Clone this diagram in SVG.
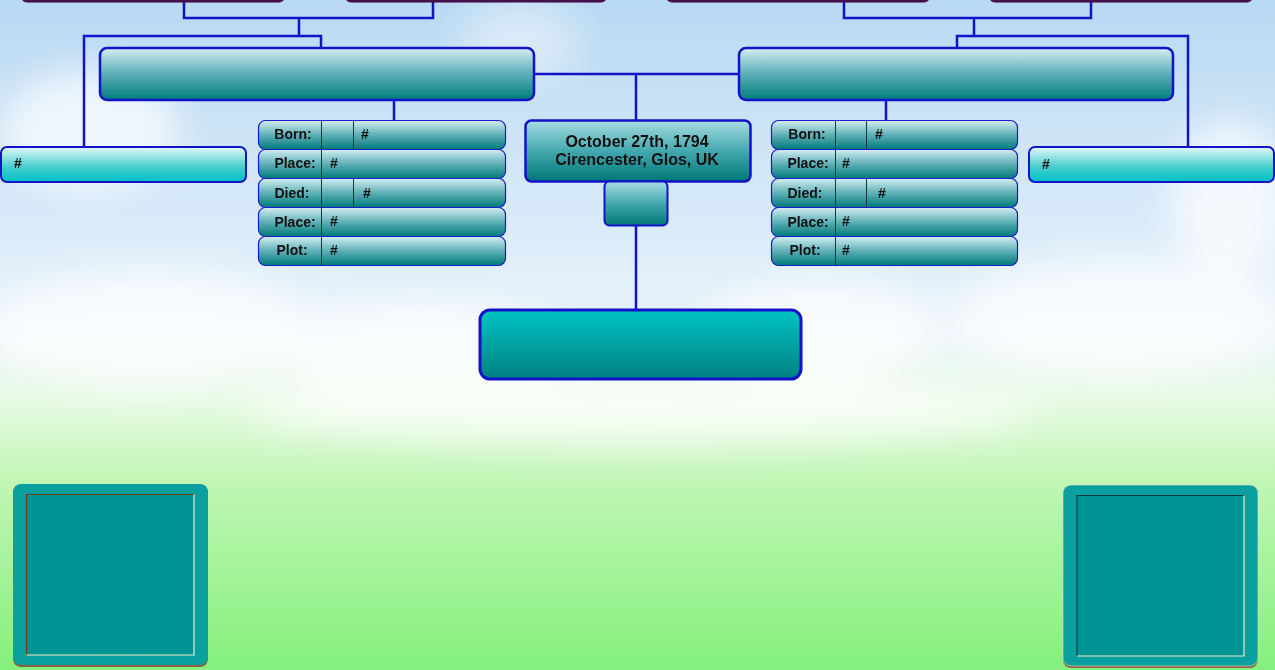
<svg xmlns="http://www.w3.org/2000/svg" width="1275" height="670" viewBox="0 0 1275 670">
<defs>
<linearGradient id="bg" x1="0" y1="0" x2="0" y2="1">
<stop offset="0" stop-color="#b9d9f2"/>
<stop offset="0.3" stop-color="#d6e9f8"/>
<stop offset="0.5" stop-color="#eaf4fa"/>
<stop offset="0.6" stop-color="#e6fae2"/>
<stop offset="0.72" stop-color="#c0f6b4"/>
<stop offset="1" stop-color="#84f07c"/>
</linearGradient>
<linearGradient id="gParent" x1="0" y1="0" x2="0" y2="1">
<stop offset="0" stop-color="#d6eef2"/>
<stop offset="0.45" stop-color="#66b4bc"/>
<stop offset="1" stop-color="#007c7c"/>
</linearGradient>
<linearGradient id="gRow" x1="0" y1="0" x2="0" y2="1">
<stop offset="0" stop-color="#d4eef2"/>
<stop offset="0.5" stop-color="#5eb0b6"/>
<stop offset="1" stop-color="#007a7a"/>
</linearGradient>
<linearGradient id="gCenter" x1="0" y1="0" x2="0" y2="1">
<stop offset="0" stop-color="#a8dce4"/>
<stop offset="0.5" stop-color="#44a8ae"/>
<stop offset="1" stop-color="#007878"/>
</linearGradient>
<linearGradient id="gSide" x1="0" y1="0" x2="0" y2="1">
<stop offset="0" stop-color="#e4f8f8"/>
<stop offset="0.6" stop-color="#40cccc"/>
<stop offset="1" stop-color="#00c0c4"/>
</linearGradient>
<linearGradient id="gBottom" x1="0" y1="0" x2="0" y2="1">
<stop offset="0" stop-color="#00c4c4"/>
<stop offset="1" stop-color="#008080"/>
</linearGradient>
<filter id="blur" x="-50%" y="-50%" width="200%" height="200%">
<feGaussianBlur stdDeviation="18"/>
</filter>
<filter id="noise" x="0" y="0" width="100%" height="100%">
<feTurbulence type="fractalNoise" baseFrequency="0.6" numOctaves="2" seed="3" result="n"/>
<feColorMatrix in="n" type="matrix" values="0 0 0 0 0  0 0 0 0 0.3  0 0 0 0 0.3  0 0 0 0.35 0" result="c"/>
<feComposite in="c" in2="SourceGraphic" operator="in" result="t"/>
<feMerge><feMergeNode in="SourceGraphic"/><feMergeNode in="t"/></feMerge>
</filter>
<style>
.conn{fill:none;stroke:#1212c8;stroke-width:2.5}
.parent{fill:url(#gParent);stroke:#1212c8;stroke-width:2.5}
.row{fill:url(#gRow);stroke:#1a1ad0;stroke-width:1.2}
.div{stroke:#103a3a;stroke-width:1}
.lbl{font-family:"Liberation Sans",Arial,sans-serif;font-weight:bold;font-size:14px;fill:#111}
.ctr{font-family:"Liberation Sans",Arial,sans-serif;font-weight:bold;font-size:16px;fill:#111;text-anchor:middle}
.purple{fill:#4b1050;stroke:#330838;stroke-width:1}
.side{fill:url(#gSide);stroke:#1212c8;stroke-width:2}
</style>
</defs>

<rect x="0" y="0" width="1275" height="670" fill="url(#bg)"/>
<g id="clouds" fill="#ffffff" filter="url(#blur)" opacity="0.7">
<ellipse cx="90" cy="130" rx="90" ry="60"/>
<ellipse cx="520" cy="40" rx="60" ry="40" opacity="0.6"/>
<ellipse cx="150" cy="330" rx="170" ry="60"/>
<ellipse cx="420" cy="350" rx="150" ry="50"/>
<ellipse cx="820" cy="330" rx="120" ry="50"/>
<ellipse cx="1120" cy="320" rx="170" ry="60"/>
<ellipse cx="1230" cy="200" rx="60" ry="80"/>
<ellipse cx="640" cy="410" rx="400" ry="35"/>
</g>

<g id="connectors">
<polyline class="conn" points="184,0 184,18 433,18 433,0"/>
<polyline class="conn" points="299,18 299,36"/>
<polyline class="conn" points="84,147 84,36 321,36 321,48"/>
<polyline class="conn" points="844,0 844,18 1091,18 1091,0"/>
<polyline class="conn" points="974,18 974,36"/>
<polyline class="conn" points="957,48 957,36 1188,36 1188,147"/>
<polyline class="conn" points="534,74 739,74"/>
<line class="conn" x1="636" y1="74" x2="636" y2="120"/>
<line class="conn" x1="394" y1="100" x2="394" y2="120"/>
<line class="conn" x1="886" y1="100" x2="886" y2="120"/>
<line class="conn" x1="636" y1="226" x2="636" y2="310"/>
</g>

<g id="gp1"><rect class="purple" x="21" y="-30" width="264" height="32" rx="6"/></g>
<g id="gp2"><rect class="purple" x="345" y="-30" width="262" height="32" rx="6"/></g>
<g id="gp3"><rect class="purple" x="666" y="-30" width="264" height="32" rx="6"/></g>
<g id="gp4"><rect class="purple" x="989" y="-30" width="264" height="32" rx="6"/></g>

<g id="father"><rect class="parent" x="100" y="48" width="434" height="52" rx="7"/></g>
<g id="mother"><rect class="parent" x="739" y="48" width="434" height="52" rx="7"/></g>

<g id="sibling-left">
<rect class="side" x="1" y="147" width="245" height="35" rx="6"/>
<text class="lbl" x="14" y="168">#</text>
</g>
<g id="sibling-right">
<rect class="side" x="1029" y="147" width="245" height="35" rx="6"/>
<text class="lbl" x="1042" y="169">#</text>
</g>

<g id="father-details">
<rect class="row" x="258.5" y="120.5" width="247" height="29" rx="7"/>
<rect class="row" x="258.5" y="149.5" width="247" height="29" rx="7"/>
<rect class="row" x="258.5" y="178.5" width="247" height="29" rx="7"/>
<rect class="row" x="258.5" y="207.5" width="247" height="29" rx="7"/>
<rect class="row" x="258.5" y="236.5" width="247" height="29" rx="7"/>
<line class="div" x1="321.5" y1="121" x2="321.5" y2="265"/>
<line class="div" x1="353.5" y1="121" x2="353.5" y2="149"/>
<line class="div" x1="353.5" y1="179" x2="353.5" y2="207"/>
<text class="lbl" x="293" y="139" text-anchor="middle">Born:</text>
<text class="lbl" x="295" y="168" text-anchor="middle">Place:</text>
<text class="lbl" x="292" y="198" text-anchor="middle">Died:</text>
<text class="lbl" x="295" y="227" text-anchor="middle">Place:</text>
<text class="lbl" x="292" y="255" text-anchor="middle">Plot:</text>
<text class="lbl" x="361" y="139">#</text>
<text class="lbl" x="330" y="168">#</text>
<text class="lbl" x="363" y="198">#</text>
<text class="lbl" x="330" y="226">#</text>
<text class="lbl" x="330" y="255">#</text>
</g>

<g id="mother-details">
<rect class="row" x="771.5" y="120.5" width="246" height="29" rx="7"/>
<rect class="row" x="771.5" y="149.5" width="246" height="29" rx="7"/>
<rect class="row" x="771.5" y="178.5" width="246" height="29" rx="7"/>
<rect class="row" x="771.5" y="207.5" width="246" height="29" rx="7"/>
<rect class="row" x="771.5" y="236.5" width="246" height="29" rx="7"/>
<line class="div" x1="835.5" y1="121" x2="835.5" y2="265"/>
<line class="div" x1="866.5" y1="121" x2="866.5" y2="149"/>
<line class="div" x1="866.5" y1="179" x2="866.5" y2="207"/>
<text class="lbl" x="807" y="139" text-anchor="middle">Born:</text>
<text class="lbl" x="808" y="168" text-anchor="middle">Place:</text>
<text class="lbl" x="805" y="198" text-anchor="middle">Died:</text>
<text class="lbl" x="808" y="227" text-anchor="middle">Place:</text>
<text class="lbl" x="805" y="255" text-anchor="middle">Plot:</text>
<text class="lbl" x="875" y="139">#</text>
<text class="lbl" x="842" y="168">#</text>
<text class="lbl" x="878" y="198">#</text>
<text class="lbl" x="842" y="226">#</text>
<text class="lbl" x="842" y="255">#</text>
</g>

<g id="subject">
<rect x="525.5" y="120.5" width="225" height="61" rx="6" fill="url(#gCenter)" stroke="#1212c8" stroke-width="2.5"/>
<text class="ctr" x="637" y="147">October 27th, 1794</text>
<text class="ctr" x="637" y="165">Cirencester, Glos, UK</text>
</g>
<g id="subject-tab">
<rect x="604.5" y="181.5" width="63" height="44" rx="5" fill="url(#gCenter)" stroke="#1212c8" stroke-width="2"/>
</g>

<g id="spouse">
<rect x="480" y="310" width="321" height="69" rx="10" fill="url(#gBottom)" stroke="#1212c8" stroke-width="3"/>
</g>

<g id="photo-left">
<rect x="13" y="485" width="195" height="182" rx="8" fill="#8a6040"/>
<rect x="13" y="484" width="195" height="181" rx="8" fill="#0aa0a0"/>
<rect x="26.5" y="494.5" width="167" height="160" fill="#0a9494" filter="url(#noise)"/>
<polyline points="26.5,655 26.5,494.5 194,494.5" fill="none" stroke="#7a3a10" stroke-width="1.2"/>
<polyline points="194,494.5 194,655 26.5,655" fill="none" stroke="#f4e6c8" stroke-width="1.2"/>
</g>
<g id="photo-right">
<rect x="1063" y="486" width="195" height="182" rx="8" fill="#8a6040"/>
<rect x="1063" y="485" width="195" height="181" rx="8" fill="#0aa0a0" stroke="#f0dcc0" stroke-width="0.6"/>
<rect x="1077" y="495.5" width="167" height="160.5" fill="#0a9494" filter="url(#noise)"/>
<polyline points="1077,656 1077,495.5 1244,495.5" fill="none" stroke="#0a3a3a" stroke-width="1.2"/>
<polyline points="1244,495.5 1244,656 1077,656" fill="none" stroke="#f4e6c8" stroke-width="1.2"/>
</g>
</svg>
